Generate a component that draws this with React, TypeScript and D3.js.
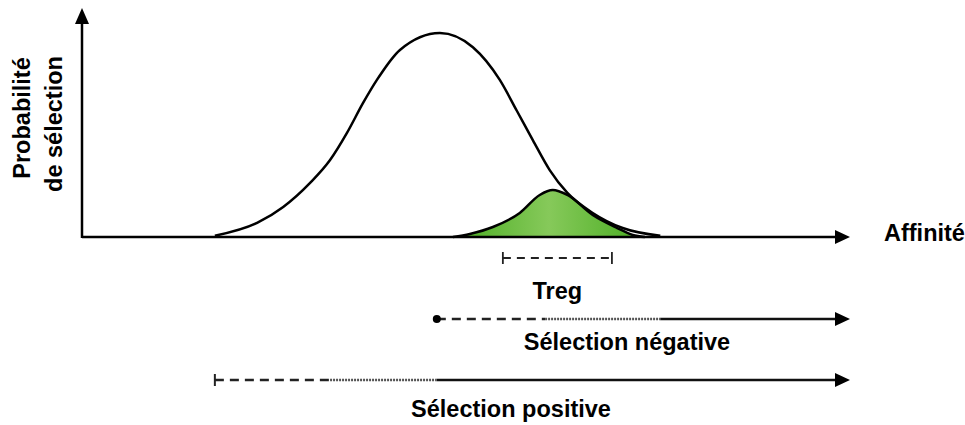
import React from 'react';
import * as d3 from 'd3';

// affinity (0-100) -> probability of selection (0-1)
const affinity = [17.3, 22.8, 26.2, 29.7, 32.3, 34.5, 36.6, 38.4, 41.4, 46.6, 50.9, 54.4, 56.6, 58.7, 60.9, 63.2, 66.5, 70.4, 75.3];
const selection = [0.006, 0.069, 0.147, 0.265, 0.377, 0.51, 0.657, 0.77, 0.917, 1.0, 0.93, 0.77, 0.62, 0.475, 0.328, 0.216, 0.118, 0.044, 0.006];

const tregAffinity = [48.3, 50.5, 53.5, 57.0, 59.6, 61.3, 63.2, 66.5, 69.7, 71.7, 73.3];
const tregSelection = [0.0, 0.015, 0.049, 0.118, 0.206, 0.23, 0.206, 0.108, 0.044, 0.01, 0.0];

// ranges along the affinity axis
const tregRange = [54.8, 69.0];
const negative = { start: 46.2, dotted: 60.3, solid: 75.3, end: 100 };
const positive = { start: 17.3, dotted: 32.3, solid: 46.2, end: 100 };

const W = 965;
const H = 425;

const x = d3.scaleLinear().domain([0, 100]).range([82, 850]);
const y = d3.scaleLinear().domain([0, 1]).range([237, 33]);

const bigLine = d3.line<number>()
  .x((d, i) => x(affinity[i]))
  .y(d => y(d))
  .curve(d3.curveMonotoneX);

const tregLine = d3.line<number>()
  .x((d, i) => x(tregAffinity[i]))
  .y(d => y(d))
  .curve(d3.curveMonotoneX);

const tregArea = d3.area<number>()
  .x((d, i) => x(tregAffinity[i]))
  .y0(y(0))
  .y1(d => y(d))
  .curve(d3.curveMonotoneX);

const font = "'Liberation Sans', Arial, sans-serif";
const fs = 23.5;

function Arrow({ x2, y0 }: { x2: number; y0: number }) {
  return <path d={`M${x2},${y0} L${x2 - 15},${y0 - 7} L${x2 - 15},${y0 + 7} Z`} fill="#000" />;
}

function RangeArrow({ r, y0, startMark }: { r: { start: number; dotted: number; solid: number; end: number }; y0: number; startMark: 'dot' | 'tick' }) {
  return (
    <g>
      <line x1={x(r.start)} x2={x(r.dotted)} y1={y0} y2={y0} stroke="#222" strokeWidth={2.5} strokeDasharray="9,6" />
      <line x1={x(r.dotted)} x2={x(r.solid)} y1={y0} y2={y0} stroke="#555" strokeWidth={2.5} strokeDasharray="2,1" />
      <line x1={x(r.solid)} x2={x(r.end) - 12} y1={y0} y2={y0} stroke="#111" strokeWidth={2.5} />
      <Arrow x2={x(r.end)} y0={y0} />
      {startMark === 'dot'
        ? <circle cx={x(r.start)} cy={y0} r={4} fill="#000" />
        : <line x1={x(r.start)} x2={x(r.start)} y1={y0 - 6} y2={y0 + 6} stroke="#222" strokeWidth={2} />}
    </g>
  );
}

export default function App() {
  return (
    <svg width={W} height={H} style={{ position: 'absolute', left: 0, top: 0, background: '#fff' }}>
      <defs>
        <linearGradient id="green" x1="0" x2="1" y1="0" y2="0">
          <stop offset="0%" stopColor="#4aad22" />
          <stop offset="50%" stopColor="#86c95a" />
          <stop offset="100%" stopColor="#4aad22" />
        </linearGradient>
      </defs>

      {/* treg curve */}
      <path d={tregArea(tregSelection) || ''} fill="url(#green)" />
      <path d={tregLine(tregSelection) || ''} fill="none" stroke="#000" strokeWidth={2.5} />

      {/* main curve */}
      <path d={bigLine(selection) || ''} fill="none" stroke="#000" strokeWidth={2.5} />

      {/* axes */}
      <line x1={x(0)} x2={x(100) - 12} y1={y(0)} y2={y(0)} stroke="#000" strokeWidth={2.5} />
      <Arrow x2={x(100)} y0={y(0)} />
      <line x1={x(0)} x2={x(0)} y1={y(0) + 1} y2={20} stroke="#000" strokeWidth={2.5} />
      <path d={`M${x(0)},8 L${x(0) - 7},24 L${x(0) + 7},24 Z`} fill="#000" />

      <text x={884} y={241} fontFamily={font} fontWeight="bold" fontSize={fs}>Affinité</text>
      <text transform="translate(30,118) rotate(-90)" textAnchor="middle" fontFamily={font} fontWeight="bold" fontSize={fs}>Probabilité</text>
      <text transform="translate(62,124) rotate(-90)" textAnchor="middle" fontFamily={font} fontWeight="bold" fontSize={fs}>de sélection</text>

      {/* treg range */}
      <line x1={x(tregRange[0])} x2={x(tregRange[1])} y1={258} y2={258} stroke="#222" strokeWidth={1.8} strokeDasharray="8,6" />
      <line x1={x(tregRange[0])} x2={x(tregRange[0])} y1={252} y2={264} stroke="#222" strokeWidth={1.8} />
      <line x1={x(tregRange[1])} x2={x(tregRange[1])} y1={252} y2={264} stroke="#222" strokeWidth={1.8} />
      <text x={(x(tregRange[0]) + x(tregRange[1])) / 2} y={299} textAnchor="middle" fontFamily={font} fontWeight="bold" fontSize={fs}>Treg</text>

      <RangeArrow r={negative} y0={319} startMark="dot" />
      <text x={627} y={350} textAnchor="middle" fontFamily={font} fontWeight="bold" fontSize={fs}>Sélection négative</text>

      <RangeArrow r={positive} y0={380} startMark="tick" />
      <text x={511} y={417} textAnchor="middle" fontFamily={font} fontWeight="bold" fontSize={fs}>Sélection positive</text>
    </svg>
  );
}
